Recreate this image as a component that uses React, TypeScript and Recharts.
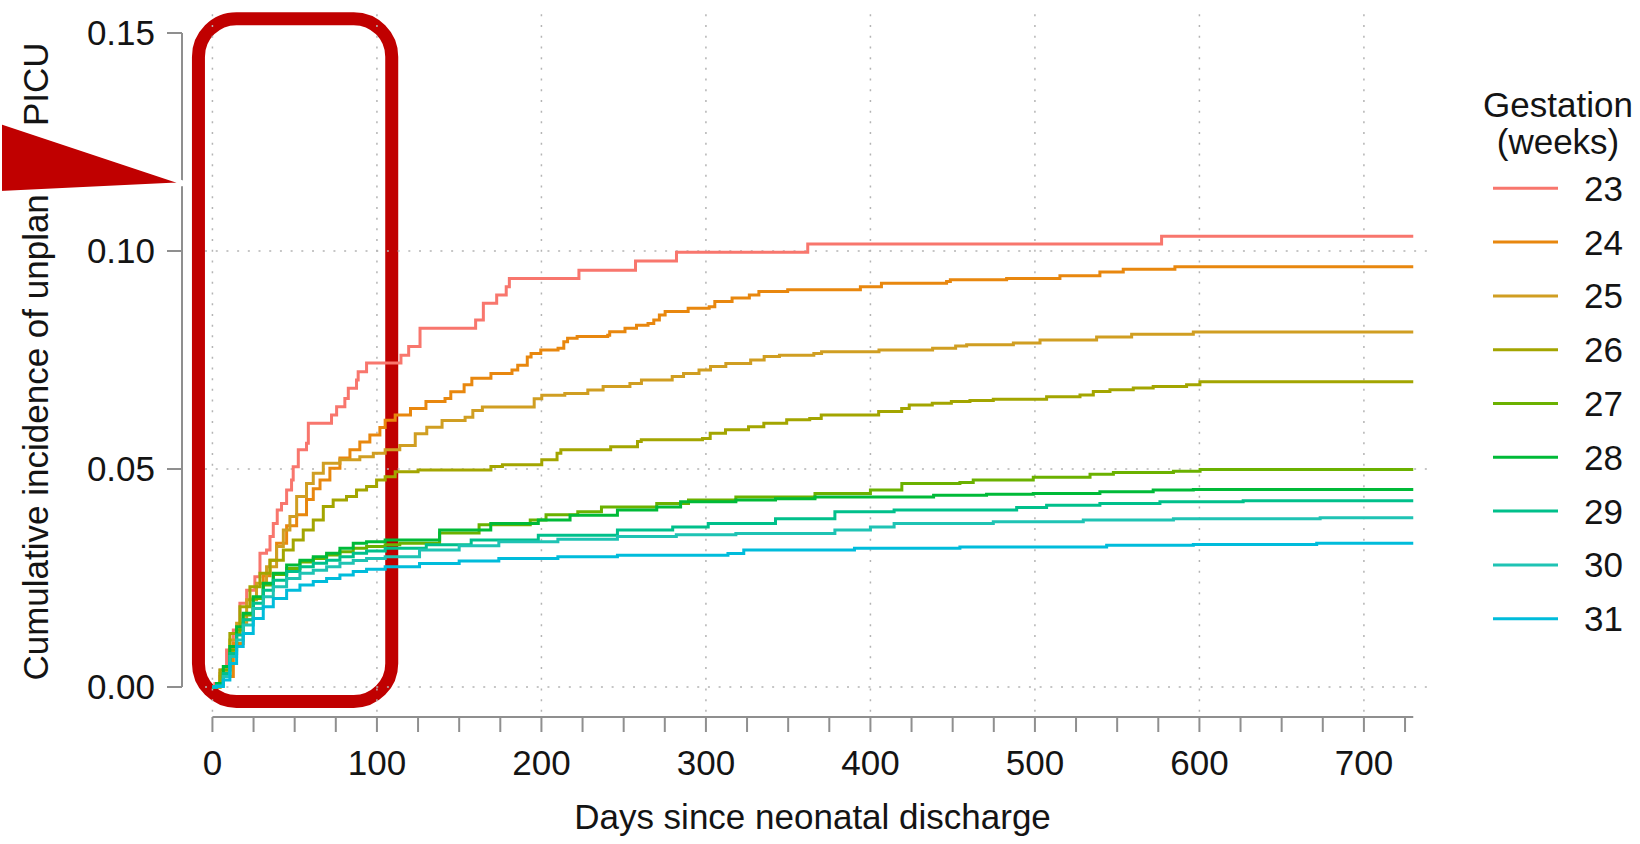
import { LineChart, Line, XAxis, YAxis, ReferenceLine, ReferenceArea, Legend } from 'recharts'

type Pt = [number, number] // [days since discharge, cumulative incidence]

const GEST_23: Pt[] = [
  [0, 0], [1.5, 0.0008], [4.6, 0.0039], [8.6, 0.0085], [12.7, 0.0131], [16.7, 0.0192], [20.8, 0.0222],
  [25.8, 0.0253], [28.9, 0.0307], [32.9, 0.0314], [35, 0.0345], [37, 0.0375], [39.4, 0.0406], [42, 0.0421],
  [45.1, 0.0452], [48.1, 0.0475], [49.1, 0.0505], [52.2, 0.0544], [57.2, 0.0559], [58.3, 0.0605],
  [72.4, 0.0624], [75.5, 0.0643], [80.5, 0.0662], [82.6, 0.0685], [87.6, 0.0704], [88.6, 0.0723],
  [93.7, 0.0743], [114.6, 0.0761], [119.3, 0.0781], [126.2, 0.0823], [160, 0.0842], [164.7, 0.088],
  [172.8, 0.0899], [178.6, 0.0918], [180.5, 0.0937], [222.8, 0.0956], [257.2, 0.0977], [282.1, 0.0997],
  [361.9, 0.1016], [577, 0.1034], [730, 0.1034],
]

const GEST_24: Pt[] = [
  [0, 0], [4.6, 0.0024], [12.7, 0.01], [18.7, 0.0154], [24.8, 0.0205], [30.9, 0.0255], [35, 0.0291],
  [39, 0.033], [45.1, 0.037], [51.2, 0.0395], [57.2, 0.043], [61.3, 0.0455], [65.4, 0.0475], [71.4, 0.0502],
  [77.5, 0.0525], [83.6, 0.0544], [89.6, 0.0562], [95.7, 0.0578], [101.8, 0.0595], [105, 0.0612],
  [111.1, 0.0624], [120.4, 0.0639], [129.8, 0.0655], [141.4, 0.0662], [144.9, 0.0677], [153, 0.0693],
  [157.7, 0.0708], [169.3, 0.0719], [182.1, 0.0727], [185.6, 0.0738], [191.4, 0.0757], [193.7, 0.0765],
  [199.6, 0.0773], [210.1, 0.0777], [213.6, 0.0792], [215.9, 0.08], [221.7, 0.0804], [240.3, 0.0807],
  [241.5, 0.0815], [250.8, 0.0823], [257.8, 0.083], [264.8, 0.0834], [268.3, 0.0842], [271.7, 0.0853],
  [275.2, 0.0861], [289.2, 0.0869], [302, 0.0872], [305.4, 0.0884], [315.9, 0.0892], [326.4, 0.0899],
  [332.2, 0.0907], [349.7, 0.0911], [393.9, 0.0918], [406.7, 0.0926], [446.3, 0.093], [448.6, 0.0934],
  [482.8, 0.0937], [515.2, 0.0943], [539.5, 0.0952], [553.7, 0.0958], [585.1, 0.0964], [730, 0.0964],
]

const GEST_25: Pt[] = [
  [0, 0], [4.6, 0.0031], [10.6, 0.0108], [14.7, 0.0146], [20.8, 0.02], [26.8, 0.0238], [32.9, 0.0276],
  [39, 0.0322], [43.1, 0.036], [47.1, 0.0391], [51.2, 0.0437], [57.2, 0.0467], [61.3, 0.049], [67.4, 0.0513],
  [77.5, 0.0521], [89.6, 0.0528], [97.8, 0.0536], [105, 0.0544], [113.9, 0.0554], [123.3, 0.0581],
  [130.3, 0.0596], [139.6, 0.0611], [153.6, 0.0619], [158.3, 0.0634], [164.1, 0.0642], [195.6, 0.0661],
  [200.2, 0.0669], [214.2, 0.0673], [228.2, 0.0681], [237.5, 0.0689], [253.8, 0.0696], [260.8, 0.0704],
  [279.5, 0.0712], [286.4, 0.0719], [295.8, 0.0727], [302.8, 0.0735], [312.1, 0.0742], [327.2, 0.075],
  [335.4, 0.0758], [344.7, 0.0761], [365.6, 0.0765], [370.3, 0.0769], [405.2, 0.0773], [437.8, 0.0777],
  [451.8, 0.0782], [458.5, 0.0785], [486.9, 0.0789], [503.1, 0.0796], [537.5, 0.0803], [558.8, 0.0809],
  [596.3, 0.0814], [730, 0.0814],
]

const GEST_26: Pt[] = [
  [0, 0], [4.6, 0.0039], [10.6, 0.0123], [16.7, 0.0184], [22.8, 0.023], [28.9, 0.0261], [35, 0.0291],
  [43.1, 0.0314], [49.1, 0.0337], [55.2, 0.036], [61.3, 0.0383], [67.4, 0.0414], [73.4, 0.0429],
  [81.5, 0.0437], [87.6, 0.0452], [93.7, 0.046], [99.8, 0.0475], [105, 0.0482], [111.1, 0.0494],
  [125, 0.0498], [169.3, 0.0506], [176.3, 0.051], [200.2, 0.0521], [209.5, 0.0536], [211.8, 0.0544],
  [242.1, 0.0551], [258.4, 0.0563], [260.7, 0.0567], [297.9, 0.057], [302.6, 0.0582], [311.9, 0.059],
  [325.9, 0.0597], [335.2, 0.0605], [349.1, 0.0613], [363.1, 0.0616], [370.1, 0.0624], [405, 0.0632],
  [419, 0.0639], [423.6, 0.0647], [437.6, 0.0651], [449.2, 0.0655], [460.5, 0.0657], [474.7, 0.066],
  [507.1, 0.0666], [527.4, 0.067], [535.5, 0.0678], [545.6, 0.0682], [559.8, 0.0686], [571.9, 0.0689],
  [592.2, 0.0693], [600.3, 0.07], [730, 0.07],
]

const GEST_27: Pt[] = [
  [0, 0], [2.5, 0.0008], [6.6, 0.0039], [10.6, 0.0085], [14.7, 0.0131], [18.7, 0.0165], [24.8, 0.0203],
  [30.9, 0.0234], [37, 0.0258], [45.1, 0.0272], [53.2, 0.0287], [61.3, 0.0295], [69.4, 0.0303],
  [77.5, 0.031], [85.6, 0.0318], [93.7, 0.0322], [105, 0.0326], [113.9, 0.033], [138.1, 0.0353],
  [162.1, 0.0372], [193.2, 0.0383], [202.8, 0.0395], [222.1, 0.0402], [236.5, 0.0413], [270.1, 0.0421],
  [289.4, 0.0429], [318.2, 0.0436], [366.3, 0.0444], [400, 0.0452], [419.1, 0.0467], [454.4, 0.0469],
  [462.5, 0.0475], [499, 0.0481], [533.5, 0.0488], [547.7, 0.0492], [584.2, 0.0495], [600.4, 0.0499],
  [730, 0.0499],
]

const GEST_28: Pt[] = [
  [0, 0], [2.5, 0.0008], [6.6, 0.0047], [10.6, 0.0093], [14.7, 0.0138], [18.7, 0.0169], [24.8, 0.0207],
  [30.9, 0.0238], [37, 0.0261], [45.1, 0.028], [53.2, 0.0291], [61.3, 0.0299], [69.4, 0.0307],
  [77.5, 0.0318], [85.6, 0.033], [93.7, 0.0333], [105, 0.0337], [138.1, 0.036], [169.2, 0.0375],
  [198.1, 0.0383], [217.4, 0.0394], [246.2, 0.0406], [270.1, 0.0413], [284.6, 0.0425], [318.2, 0.0429],
  [342.3, 0.0432], [366.3, 0.0436], [438.4, 0.044], [470.6, 0.0442], [499, 0.0444], [539.5, 0.0448],
  [571.9, 0.0452], [596.3, 0.0453], [730, 0.0453],
]

const GEST_29: Pt[] = [
  [0, 0], [2.5, 0.0004], [6.6, 0.0031], [10.6, 0.0077], [14.7, 0.0119], [18.7, 0.0154], [24.8, 0.0192],
  [30.9, 0.0222], [37, 0.0245], [45.1, 0.0265], [53.2, 0.0276], [61.3, 0.0284], [69.4, 0.0291],
  [77.5, 0.0299], [85.6, 0.0307], [93.7, 0.0312], [105, 0.0318], [130, 0.0326], [157.3, 0.0337],
  [198.1, 0.0348], [246.2, 0.036], [279.8, 0.0367], [301.4, 0.0375], [342.3, 0.0386], [378.4, 0.0402],
  [414.4, 0.0406], [488.9, 0.0412], [507.1, 0.0417], [539.5, 0.0421], [576, 0.0425], [626.6, 0.0427],
  [730, 0.0427],
]

const GEST_30: Pt[] = [
  [0, 0], [2.5, 0.0002], [6.6, 0.0024], [10.6, 0.007], [14.7, 0.0108], [18.7, 0.0142], [24.8, 0.018],
  [30.9, 0.0207], [37, 0.023], [45.1, 0.0249], [53.2, 0.0261], [61.3, 0.0268], [69.4, 0.0276],
  [77.5, 0.0284], [85.6, 0.029], [93.7, 0.0295], [105, 0.0299], [125.9, 0.0314], [150, 0.0324],
  [174.1, 0.0333], [210, 0.0339], [246.2, 0.0345], [282, 0.0349], [318.2, 0.0352], [378.4, 0.036],
  [400, 0.0367], [414.4, 0.0375], [474.7, 0.0379], [529.4, 0.0383], [584.2, 0.0386], [673.4, 0.0388],
  [730, 0.0388],
]

const GEST_31: Pt[] = [
  [0, 0], [2.5, 0.0001], [6.6, 0.0016], [10.6, 0.0054], [14.7, 0.0093], [18.7, 0.0123], [24.8, 0.0157],
  [30.9, 0.0184], [37, 0.0203], [45.1, 0.0222], [53.2, 0.0234], [61.3, 0.0242], [69.4, 0.0249],
  [77.5, 0.0257], [85.6, 0.0265], [93.7, 0.027], [105, 0.0276], [125.9, 0.0283], [150, 0.0289],
  [174.1, 0.0295], [210, 0.0299], [246.2, 0.0302], [313.4, 0.0306], [323, 0.0314], [390.3, 0.0318],
  [454.4, 0.0321], [543.6, 0.0325], [596.3, 0.0327], [671.3, 0.033], [730, 0.033],
]

const GESTATIONS = ['23', '24', '25', '26', '27', '28', '29', '30', '31']
const SERIES = [GEST_23, GEST_24, GEST_25, GEST_26, GEST_27, GEST_28, GEST_29, GEST_30, GEST_31]
const COLORS = [
  '#F8766D', '#E8870E', '#D09E22', '#A3A500', '#6BB100',
  '#00BA38', '#00C08B', '#1FC3B4', '#00BCDB',
]

const X_TICKS = [
  0, 25, 50, 75, 100, 125, 150, 175, 200, 225, 250, 275, 300, 325, 350,
  375, 400, 425, 450, 475, 500, 525, 550, 575, 600, 625, 650, 675, 700, 725,
]
const X_GRID = [0, 100, 200, 300, 400, 500, 600, 700]
const Y_TICKS = [0, 0.05, 0.1, 0.15]
const Y_GRID = [0, 0.05, 0.1]

// plot panel in data units (R style: axes detached from panel)
const X_MIN = -18.5
const X_MAX = 742
const Y_MIN = -0.00688
const Y_MAX = 0.15528
const PANEL_X0 = -4.5
const PANEL_Y0 = -0.0057

const FONT = '"Liberation Sans", Arial, sans-serif'
const AXIS = '#8f8f8f'
const GRID = '#b4b4b4'
const RED = '#C00000'
const TEXT = '#141414'

function GestationLegend() {
  return (
    <svg width={170} height={580} style={{ display: 'block', overflow: 'visible' }}>
      <text x={88} y={37.4} textAnchor="middle" fontSize={35} fontFamily={FONT} fill={TEXT}>
        Gestation
      </text>
      <text x={88} y={73.5} textAnchor="middle" fontSize={35} fontFamily={FONT} fill={TEXT}>
        (weeks)
      </text>
      {GESTATIONS.map((g, i) => {
        const y = 108.3 + 53.8 * i
        return (
          <g key={g}>
            <line x1={23} x2={88} y1={y} y2={y} stroke={COLORS[i]} strokeWidth={3} />
            <text x={114} y={y + 12.5} fontSize={35} fontFamily={FONT} fill={TEXT}>
              {g}
            </text>
          </g>
        )
      })}
    </svg>
  )
}

export default function App() {
  return (
    <div style={{ position: 'absolute', left: 0, top: 0, width: 1640, height: 844, background: '#fff' }}>
      <LineChart width={1640} height={844} margin={{ top: 10, right: 207, bottom: 0, left: 62 }}>
        <XAxis
          dataKey="day"
          type="number"
          domain={[X_MIN, X_MAX]}
          allowDataOverflow
          ticks={X_TICKS}
          interval={0}
          tickFormatter={(v: number) => (v % 100 === 0 ? String(v) : '')}
          axisLine={false}
          tickLine={{ stroke: AXIS, strokeWidth: 2 }}
          tickSize={15}
          tickMargin={18}
          height={127}
          tick={{ fontSize: 35, fill: TEXT, fontFamily: FONT }}
        />
        <YAxis
          type="number"
          domain={[Y_MIN, Y_MAX]}
          allowDataOverflow
          ticks={Y_TICKS}
          interval={0}
          tickFormatter={(v: number) => v.toFixed(2)}
          axisLine={false}
          tickLine={{ stroke: AXIS, strokeWidth: 2 }}
          tickSize={15}
          tickMargin={12}
          width={120}
          tick={{ fontSize: 35, fill: TEXT, fontFamily: FONT }}
        />
        {X_GRID.map((d) => (
          <ReferenceLine
            key={`vx${d}`}
            segment={[{ x: d, y: PANEL_Y0 }, { x: d, y: Y_MAX }]}
            stroke={GRID}
            strokeWidth={1.5}
            strokeDasharray="2 8.7"
            ifOverflow="visible"
          />
        ))}
        {Y_GRID.map((v) => (
          <ReferenceLine
            key={`hy${v}`}
            segment={[{ x: PANEL_X0, y: v }, { x: X_MAX, y: v }]}
            stroke={GRID}
            strokeWidth={1.5}
            strokeDasharray="2 8.7"
            ifOverflow="visible"
          />
        ))}
        <ReferenceLine
          segment={[{ x: 0, y: Y_MIN }, { x: 730, y: Y_MIN }]}
          stroke={AXIS}
          strokeWidth={2}
          ifOverflow="visible"
        />
        <ReferenceLine
          segment={[{ x: X_MIN, y: 0 }, { x: X_MIN, y: 0.15 }]}
          stroke={AXIS}
          strokeWidth={2}
          ifOverflow="visible"
        />
        {SERIES.map((s, i) => (
          <Line
            key={GESTATIONS[i]}
            name={GESTATIONS[i]}
            data={s.map(([day, ci]) => ({ day, ci }))}
            dataKey="ci"
            type="stepAfter"
            stroke={COLORS[i]}
            strokeWidth={3}
            dot={false}
            activeDot={false}
            isAnimationActive={false}
          />
        ))}
        <ReferenceArea
          x1={-8.5}
          x2={109}
          y1={-0.0033}
          y2={0.1533}
          ifOverflow="visible"
          shape={(p: any) => (
            <rect
              x={p.x}
              y={p.y}
              width={p.width}
              height={p.height}
              rx={38}
              ry={38}
              fill="none"
              stroke={RED}
              strokeWidth={13}
            />
          )}
        />
        <Legend
          layout="vertical"
          align="center"
          verticalAlign="middle"
          wrapperStyle={{ left: 1470, top: 80, width: 170, height: 580 }}
          content={() => <GestationLegend />}
        />
      </LineChart>
      <svg
        width={1640}
        height={844}
        style={{ position: 'absolute', left: 0, top: 0, pointerEvents: 'none' }}
      >
        <text
          transform="translate(48,361.5) rotate(-90)"
          textAnchor="middle"
          fontSize={35}
          fontFamily={FONT}
          fill={TEXT}
        >
          Cumulative incidence of unplanned PICU
        </text>
        <text x={812.5} y={829} textAnchor="middle" fontSize={35} fontFamily={FONT} fill={TEXT}>
          Days since neonatal discharge
        </text>
        <polygon points="0,122 187,184 0,193" fill={RED} stroke="#fff" strokeWidth={4} strokeLinejoin="miter" />
      </svg>
    </div>
  )
}
